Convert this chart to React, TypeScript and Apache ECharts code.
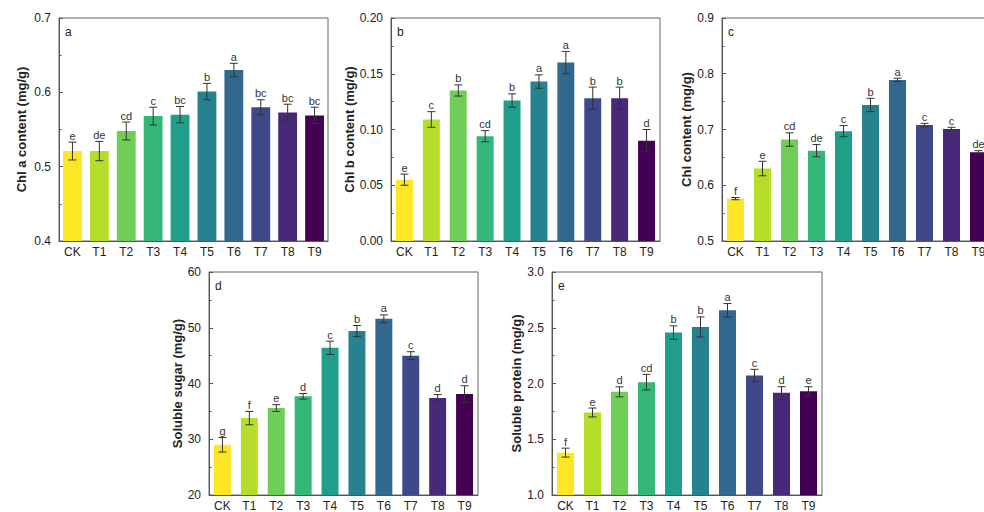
import React, { useEffect, useRef } from "react";
import * as echarts from "echarts";

const categories = ["CK", "T1", "T2", "T3", "T4", "T5", "T6", "T7", "T8", "T9"];
const barColors = ["#fde725", "#b5de2b", "#6ece58", "#35b779", "#1f9e89", "#26828e", "#31688e", "#3e4989", "#482878", "#440154"];

const chlA = [0.521, 0.521, 0.548, 0.568, 0.570, 0.601, 0.630, 0.580, 0.573, 0.569];
const chlAErr = [0.012, 0.013, 0.012, 0.012, 0.011, 0.011, 0.009, 0.010, 0.011, 0.011];
const chlALetters = ["e", "de", "cd", "c", "bc", "b", "a", "bc", "bc", "bc"];

const chlB = [0.055, 0.109, 0.135, 0.094, 0.126, 0.143, 0.160, 0.128, 0.128, 0.090];
const chlBErr = [0.005, 0.007, 0.005, 0.005, 0.006, 0.006, 0.010, 0.010, 0.010, 0.010];
const chlBLetters = ["e", "c", "b", "cd", "b", "a", "a", "b", "b", "d"];

const chl = [0.576, 0.630, 0.682, 0.662, 0.697, 0.744, 0.789, 0.708, 0.701, 0.659];
const chlErr = [0.002, 0.013, 0.012, 0.011, 0.010, 0.012, 0.003, 0.003, 0.003, 0.003];
const chlLetters = ["f", "e", "cd", "de", "c", "b", "a", "c", "c", "de"];

const sugar = [29.0, 33.8, 35.6, 37.7, 46.4, 49.4, 51.6, 45.0, 37.4, 38.1];
const sugarErr = [1.3, 1.2, 0.6, 0.5, 1.2, 1.0, 0.7, 0.7, 0.6, 1.5];
const sugarLetters = ["g", "f", "e", "d", "c", "b", "a", "c", "d", "d"];

const protein = [1.38, 1.74, 1.925, 2.012, 2.457, 2.507, 2.657, 2.072, 1.916, 1.931];
const proteinErr = [0.04, 0.04, 0.045, 0.07, 0.06, 0.09, 0.06, 0.055, 0.055, 0.04];
const proteinLetters = ["f", "e", "d", "cd", "b", "b", "a", "c", "d", "e"];

const panelTags = ["a", "b", "c", "d", "e"];
const yTitles = ["Chl a content (mg/g)", "Chl b content (mg/g)", "Chl content (mg/g)", "Soluble sugar (mg/g)", "Soluble protein (mg/g)"];

const FONT = "Liberation Sans, Arial, sans-serif";

export default function App() {
  const ref = useRef<HTMLDivElement>(null);
  useEffect(() => {
    if (!ref.current) return;
    document.body.style.overflow = "hidden";
    const chart = echarts.init(ref.current, undefined, { renderer: "svg" });

    const panels = [
      { vals: chlA, errs: chlAErr, letters: chlALetters, min: 0.4, max: 0.7, interval: 0.1, dec: 1, bw: "70%", grid: { left: 59, top: 18, width: 269, height: 223 }, gap: 31 },
      { vals: chlB, errs: chlBErr, letters: chlBLetters, min: 0, max: 0.2, interval: 0.05, dec: 2, bw: "63%", grid: { left: 391, top: 18, width: 269, height: 223 }, gap: 34 },
      { vals: chl, errs: chlErr, letters: chlLetters, min: 0.5, max: 0.9, interval: 0.1, dec: 1, bw: "63%", grid: { left: 722, top: 18, width: 270, height: 223 }, gap: 28 },
      { vals: sugar, errs: sugarErr, letters: sugarLetters, min: 20, max: 60, interval: 10, dec: 0, bw: "63%", grid: { left: 209, top: 272, width: 269, height: 223 }, gap: 22 },
      { vals: protein, errs: proteinErr, letters: proteinLetters, min: 1.0, max: 3.0, interval: 0.5, dec: 1, bw: "63%", grid: { left: 552, top: 272, width: 270, height: 223 }, gap: 23 },
    ];

    const grids: any[] = [];
    const xAxes: any[] = [];
    const yAxes: any[] = [];
    const series: any[] = [];
    const graphics: any[] = [];

    panels.forEach((p, i) => {
      grids.push({ ...p.grid, show: true, borderColor: "#666", borderWidth: 1, backgroundColor: "transparent" });
      xAxes.push({
        type: "category",
        gridIndex: i,
        data: categories,
        axisLine: { show: true, lineStyle: { color: "#555", width: 1 } },
        axisTick: { show: false },
        axisLabel: { interval: 0, fontSize: 12, color: "#222", margin: 5, fontFamily: FONT },
      });
      yAxes.push({
        type: "value",
        gridIndex: i,
        min: p.min,
        max: p.max,
        interval: p.interval,
        axisLine: { show: true, lineStyle: { color: "#555", width: 1 } },
        axisTick: { show: true, inside: true, length: 4, lineStyle: { color: "#555" } },
        minorTick: { show: true, splitNumber: 2, length: 2.5, lineStyle: { color: "#555" } },
        splitLine: { show: false },
        axisLabel: { fontSize: 12, color: "#222", margin: 8, fontFamily: FONT, formatter: (v: number) => v.toFixed(p.dec) },
        name: yTitles[i],
        nameLocation: "middle",
        nameRotate: 90,
        nameGap: p.gap,
        nameTextStyle: { fontSize: 13, fontWeight: "bold", color: "#222", fontFamily: FONT },
      });
      series.push({
        type: "bar",
        xAxisIndex: i,
        yAxisIndex: i,
        barWidth: p.bw,
        data: p.vals.map((v, k) => ({ value: v, itemStyle: { color: barColors[k] } })),
      });
      const letters = p.letters;
      series.push({
        type: "custom",
        xAxisIndex: i,
        yAxisIndex: i,
        z: 5,
        data: p.vals.map((v, k) => [k, v, p.errs[k]]),
        renderItem: (params: any, api: any) => {
          const x = api.value(0);
          const y = api.value(1);
          const e = api.value(2);
          const top = api.coord([x, y + e]);
          const bot = api.coord([x, y - e]);
          const cw = 4;
          const ls = { stroke: "#333", lineWidth: 1 };
          return {
            type: "group",
            children: [
              { type: "line", shape: { x1: top[0], y1: top[1], x2: bot[0], y2: bot[1] }, style: ls },
              { type: "line", shape: { x1: top[0] - cw, y1: top[1], x2: top[0] + cw, y2: top[1] }, style: ls },
              { type: "line", shape: { x1: bot[0] - cw, y1: bot[1], x2: bot[0] + cw, y2: bot[1] }, style: ls },
              {
                type: "text",
                x: top[0],
                y: top[1] - 1,
                style: { text: letters[params.dataIndex], fontSize: 11, fill: "#333", align: "center", verticalAlign: "bottom", fontFamily: FONT },
              },
            ],
          };
        },
      });
      graphics.push({
        type: "text",
        left: p.grid.left + 6,
        top: p.grid.top + 8,
        style: { text: panelTags[i], fontSize: 12, fill: "#222", fontFamily: FONT },
      });
    });

    chart.setOption({
      animation: false,
      backgroundColor: "#ffffff",
      textStyle: { fontFamily: FONT },
      grid: grids,
      xAxis: xAxes,
      yAxis: yAxes,
      series,
      graphic: graphics,
    });
    return () => chart.dispose();
  }, []);

  return (
    <div style={{ position: "absolute", left: 0, top: 0, width: 984, height: 512, overflow: "hidden" }}>
      <div ref={ref} style={{ width: 1000, height: 512 }} />
    </div>
  );
}
